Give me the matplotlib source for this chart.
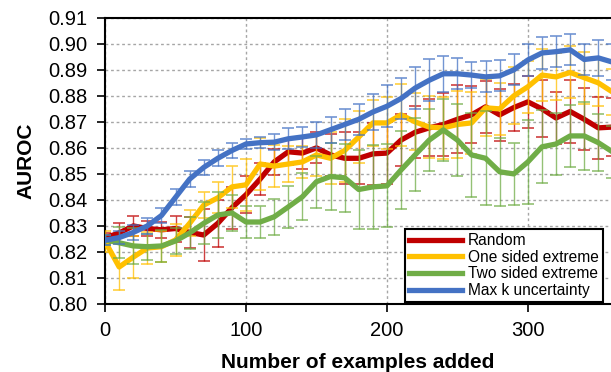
import numpy as np
import matplotlib.pyplot as plt

plt.rcParams['font.family'] = ['Liberation Sans', 'DejaVu Sans']

x = np.arange(0, 370, 10)

random_auc = [0.8254, 0.8273, 0.8300, 0.8290, 0.8285, 0.8290, 0.8275, 0.8265, 0.8310, 0.8370,
              0.8420, 0.8480, 0.8546, 0.8585, 0.8580, 0.8600, 0.8573, 0.8560, 0.8560, 0.8577,
              0.8580, 0.8630, 0.8660, 0.8677, 0.8690, 0.8710, 0.8727, 0.8758, 0.8727, 0.8755,
              0.8777, 0.8750, 0.8715, 0.8740, 0.8710, 0.8677, 0.8680]
random_err = [0.002, 0.004, 0.004, 0.003, 0.003, 0.005, 0.006, 0.010, 0.009, 0.008,
              0.007, 0.006, 0.005, 0.005, 0.006, 0.006, 0.008, 0.010, 0.010, 0.012,
              0.012, 0.010, 0.010, 0.011, 0.012, 0.013, 0.011, 0.010, 0.010, 0.009,
              0.010, 0.011, 0.010, 0.012, 0.012, 0.012, 0.011]

one_sided = [0.8240, 0.8142, 0.8180, 0.8215, 0.8220, 0.8246, 0.8310, 0.8380, 0.8408, 0.8450,
             0.8458, 0.8538, 0.8530, 0.8538, 0.8546, 0.8573, 0.8560, 0.8590, 0.8642, 0.8696,
             0.8696, 0.8727, 0.8700, 0.8680, 0.8677, 0.8690, 0.8696, 0.8754, 0.8750, 0.8800,
             0.8835, 0.8880, 0.8873, 0.8890, 0.8870, 0.8850, 0.8815]
one_err = [0.004, 0.009, 0.008, 0.006, 0.006, 0.006, 0.005, 0.005, 0.006, 0.008,
           0.010, 0.010, 0.008, 0.007, 0.006, 0.008, 0.010, 0.012, 0.010, 0.009,
           0.010, 0.012, 0.011, 0.012, 0.012, 0.013, 0.012, 0.011, 0.010, 0.011,
           0.010, 0.010, 0.009, 0.010, 0.010, 0.009, 0.009]

two_sided = [0.8246, 0.8235, 0.8223, 0.8220, 0.8223, 0.8242, 0.8273, 0.8310, 0.8342, 0.8350,
             0.8315, 0.8315, 0.8335, 0.8373, 0.8412, 0.8470, 0.8490, 0.8485, 0.8440, 0.8450,
             0.8454, 0.8515, 0.8573, 0.8630, 0.8669, 0.8630, 0.8573, 0.8560, 0.8508, 0.8500,
             0.8546, 0.8604, 0.8615, 0.8646, 0.8646, 0.8620, 0.8585]
two_err = [0.002, 0.006, 0.007, 0.005, 0.006, 0.005, 0.006, 0.008, 0.009, 0.007,
           0.006, 0.006, 0.007, 0.008, 0.009, 0.010, 0.013, 0.013, 0.015, 0.016,
           0.016, 0.015, 0.014, 0.012, 0.012, 0.014, 0.016, 0.018, 0.013, 0.012,
           0.016, 0.014, 0.012, 0.012, 0.013, 0.011, 0.010]

max_k = [0.8245, 0.8255, 0.8275, 0.8300, 0.8340, 0.8410, 0.8480, 0.8525, 0.8560, 0.8590,
         0.8615, 0.8620, 0.8622, 0.8635, 0.8642, 0.8650, 0.8670, 0.8690, 0.8710, 0.8738,
         0.8760, 0.8790, 0.8830, 0.8860, 0.8885, 0.8885, 0.8880, 0.8873, 0.8877, 0.8900,
         0.8938, 0.8965, 0.8970, 0.8977, 0.8940, 0.8946, 0.8930]
max_err = [0.002, 0.0025, 0.003, 0.003, 0.003, 0.003, 0.003, 0.003, 0.003, 0.003,
           0.002, 0.002, 0.003, 0.004, 0.004, 0.005, 0.005, 0.006, 0.006, 0.007,
           0.008, 0.008, 0.008, 0.008, 0.007, 0.006, 0.005, 0.006, 0.006, 0.006,
           0.006, 0.006, 0.006, 0.006, 0.006, 0.007, 0.007]

series = [
    ("Random", random_auc, random_err, "#C00000"),
    ("One sided extreme", one_sided, one_err, "#FFC000"),
    ("Two sided extreme", two_sided, two_err, "#70AD47"),
    ("Max k uncertainty", max_k, max_err, "#4472C4"),
]

fig = plt.figure(figsize=(6.11, 3.72), dpi=100)
ax = fig.add_axes([0.172, 0.183, 0.828, 0.769])

handles = []
for i, (name, vals, err, col) in enumerate(series):
    ax.errorbar(x, vals, yerr=err, fmt="none", ecolor=col, alpha=0.75,
                elinewidth=1.0, capsize=4, capthick=1.2, zorder=2 + i * 2)
    ln, = ax.plot(x, vals, color=col, lw=3.8, solid_joinstyle="round",
                  label=name, zorder=3 + i * 2)
    handles.append(ln)

ax.set_xlim(0, 359)
ax.set_ylim(0.80, 0.91)
ax.set_xticks([0, 100, 200, 300])
ax.set_yticks(np.arange(0.80, 0.9101, 0.01))
ax.yaxis.set_major_formatter(plt.FormatStrFormatter("%.2f"))
ax.tick_params(direction="out", length=5.5, width=1.2, labelsize=14.5, pad=7)

ax.grid(True, color="#A6A6A6", linestyle=(0, (2, 2)), linewidth=1.0)
ax.set_axisbelow(True)
for s in ["left", "bottom", "top"]:
    ax.spines[s].set_linewidth(1.5)
ax.spines["right"].set_visible(False)

ax.set_xlabel("Number of examples added", fontsize=15, fontweight="bold", labelpad=9)
ax.set_ylabel("AUROC", fontsize=15, fontweight="bold", labelpad=9)

leg = ax.legend(handles=handles, loc="lower right", bbox_to_anchor=(0.984, 0.007),
                borderaxespad=0, fontsize=11.2, handlelength=3.4, handletextpad=0.4,
                labelspacing=0.1, borderpad=0.25, fancybox=False, framealpha=1)
leg.get_frame().set_edgecolor("black")
leg.get_frame().set_linewidth(1.5)
leg.set_zorder(20)

fig.savefig("out.png", dpi=100)
